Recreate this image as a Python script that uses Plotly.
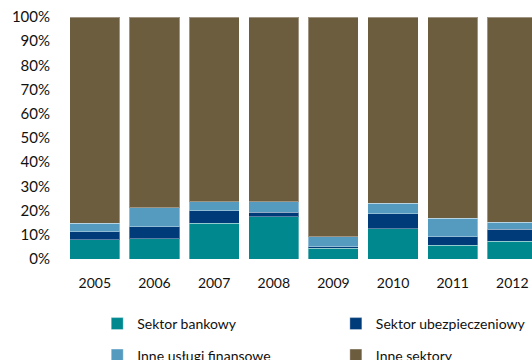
import plotly.graph_objects as go

years = ["2005", "2006", "2007", "2008", "2009", "2010", "2011", "2012"]
bankowy = [7.9, 8.3, 14.7, 17.4, 4.4, 12.5, 5.7, 7.3]
ubezpieczeniowy = [3.4, 5.1, 5.3, 1.9, 0.7, 6.2, 3.5, 5.0]
inne_uslugi = [3.4, 7.7, 3.7, 4.4, 4.1, 4.4, 7.6, 2.9]
inne_sektory = [85.3, 78.9, 76.3, 76.3, 90.8, 76.9, 83.2, 84.8]
y_ticks = [0, 10, 20, 30, 40, 50, 60, 70, 80, 90, 100]

series = [
    ("Sektor bankowy", bankowy, "#00888F", "legend"),
    ("Sektor ubezpieczeniowy", ubezpieczeniowy, "#003B79", "legend2"),
    ("Inne usługi finansowe", inne_uslugi, "#559ABF", "legend3"),
    ("Inne sektory", inne_sektory, "#6C5D3F", "legend4"),
]

fig = go.Figure()
for name, vals, color, leg in series:
    fig.add_trace(go.Bar(
        x=years, y=vals, name=name, legend=leg,
        marker=dict(color=color, line=dict(color="rgba(255,255,255,0.35)", width=1)),
    ))

fam = "Lato, sans-serif"
tick_font_x = dict(family=fam, size=14, color="#111111")
tick_font_y = dict(family=fam, size=15, color="#111111")
leg_font = dict(family=fam, size=14, color="#111111")

def leg(x, y):
    return dict(orientation="h", x=x, y=y, xanchor="left", yanchor="middle",
                font=leg_font, bgcolor="rgba(0,0,0,0)", borderwidth=0)

fig.update_layout(
    barmode="stack",
    showlegend=True,
    width=532, height=360,
    margin=dict(l=65, r=0, t=17, b=101, autoexpand=False),
    paper_bgcolor="white", plot_bgcolor="white",
    font=leg_font,
    bargap=0.16,
    xaxis=dict(range=[-0.5, 7.33], showgrid=False, showline=False, ticks="",
               tickfont=tick_font_x, ticklabelstandoff=14, ticklabeloverflow="allow"),
    yaxis=dict(range=[0, 100], tickvals=y_ticks, ticktext=[f"{v}%" for v in y_ticks],
               showgrid=False, showline=False, zeroline=False, ticks="",
               tickfont=tick_font_y, ticklabelstandoff=14, ticklabeloverflow="allow"),
    legend=leg(0.069, -0.2686),
    legend2=leg(0.58, -0.2686),
    legend3=leg(0.069, -0.3988),
    legend4=leg(0.58, -0.3988),
)
fig.write_html("out.html", config={"displayModeBar": False},
               post_script="document.body.style.margin='0';")
